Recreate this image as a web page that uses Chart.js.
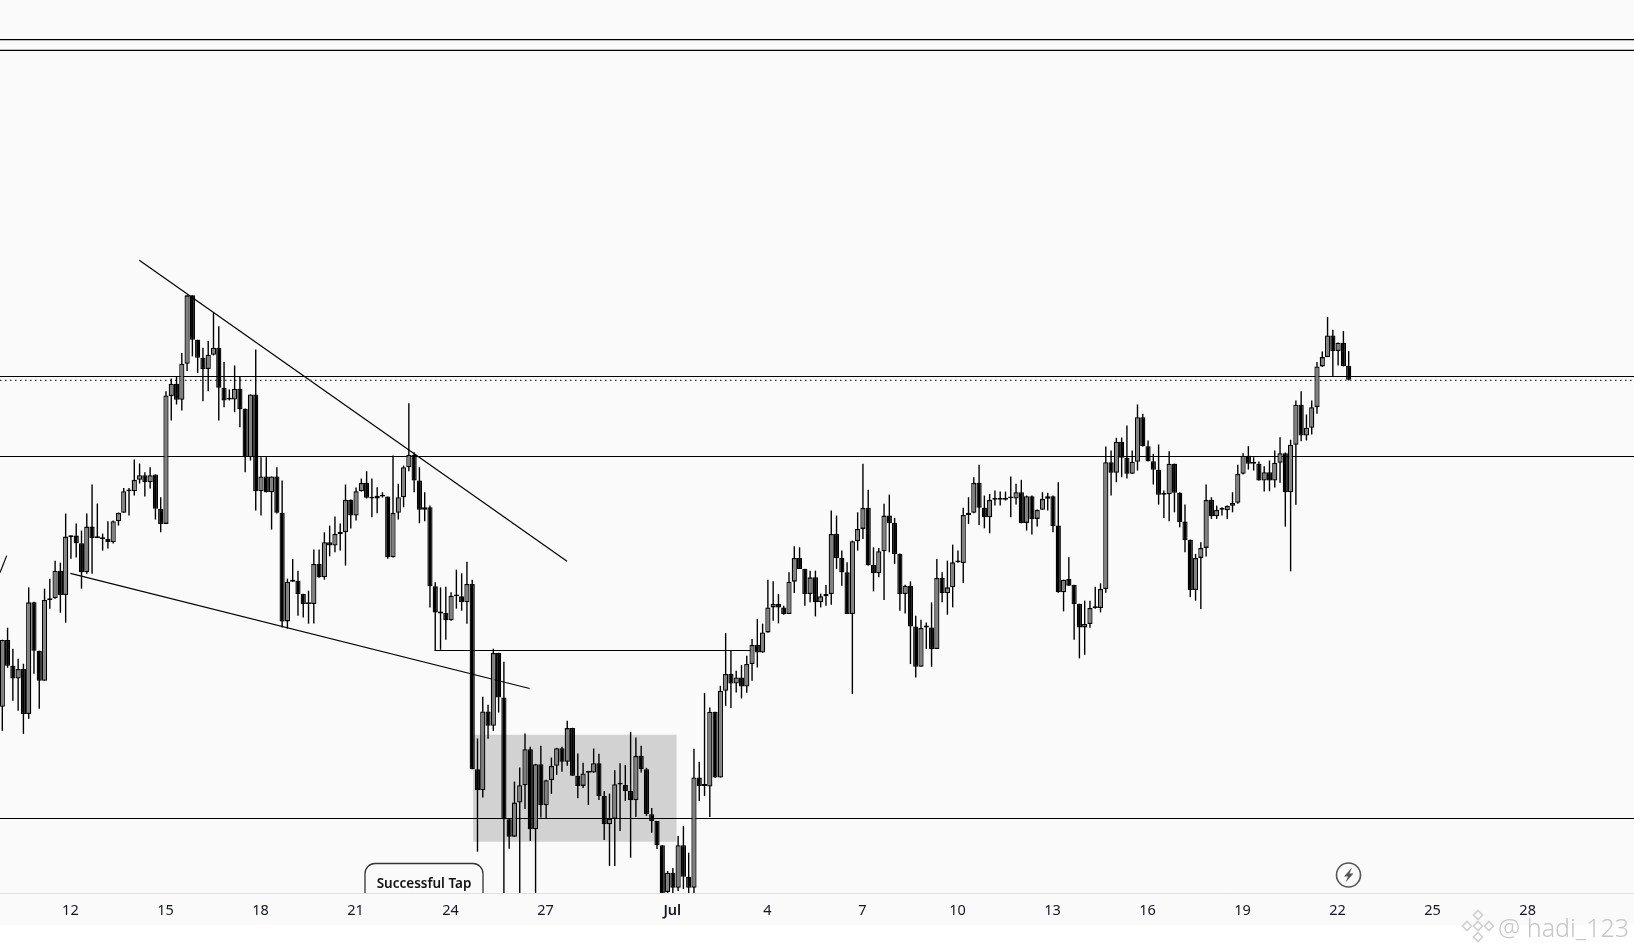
<!DOCTYPE html>
<html>
<head>
<meta charset="utf-8">
<style>html,body{margin:0;padding:0;background:#fff}canvas{display:block}</style>
<script src="https://cdn.jsdelivr.net/npm/chart.js@4/dist/chart.umd.min.js"></script>
</head>
<body>
<canvas id="c" width="1634" height="952" style="width:1634px;height:952px"></canvas>
<script>
// Four-hour candles (six per day); day numbers count from 1 June, prices in chart units
const firstCandleDay = 9.8506;
const candlesPerDay = 6;
const opens = [
294,360.7,335,322.3,331.7,286.7,398.3,350,320,400.7,
402.3,430,405.7,464.5,465,457.3,428.3,474,463,462,
461.5,458.3,479.3,487.7,509.3,509.3,520.7,525.3,518.3,526,
491.7,476.7,604.3,616.7,600.7,636.7,705,660.7,642.7,631.3,
645.7,652.7,612.7,601,601,611.7,591.7,543.3,606,509.3,
524,508.3,524,487.7,379.3,419,420,406.7,396.7,396.7,
436.7,423.3,458.3,455,466.7,468.3,500.7,485,509.3,517.7,
502,502,504.7,504,443.3,487.7,503.3,533.3,545.7,520,
490.7,493.3,414.3,388.3,387.7,380.5,404.3,404.3,398.3,416.7,
231.7,210.7,289.3,275,347.7,303.3,181.7,164.3,198.3,215.7,
251.7,171.7,236.7,195.7,220.7,235,252.7,239,272.7,225,
215,228,228.3,237.7,205,176.7,182,216.7,216,210,
200.7,245,231.7,186.7,180,155.7,109,128.3,113.3,155.7,
124.3,113.3,223.3,215,214.3,289,223.3,310,326.7,317.3,
323.3,314.3,336.7,355.7,348.3,368.3,393.3,396.7,393.3,386.7,
419,442.7,431.7,406.7,423.3,398.3,404.3,406.7,466.7,442.7,
428.3,386.7,459.3,471.7,492.7,435.7,427.3,449.3,485,477.7,
446.7,406.7,415,374.3,334,373.3,373.3,351.7,422.7,407.3,
413.3,438.3,437.7,485.7,487.7,517.7,492.7,483.3,500.7,500.7,
500.7,502.3,502,508.3,477.7,504.3,481.7,490.7,501.7,504.3,
475,408.3,421.7,415.7,396.7,373.3,376.7,392.7,392.7,411.7,
538.3,527.7,558.7,542.7,526.7,538.7,583.3,554.3,539.3,530.7,
505.7,506.3,536.7,507.7,479,460.7,410.7,442.7,452.7,500.7,
484.3,490.7,490.3,494.7,497.7,526.7,544.7,536.7,536.7,520,
528.3,520,537.7,547.3,508.3,555.7,595.7,565,572.7,593.3,
634,643.3,665,649.3,657.7,634.3];
const closes = [
360.7,335,322.3,331.7,286.7,398.3,350,320,400.7,402.3,
430,405.7,464,463.5,457.3,428.3,474,462.7,462.5,461.5,
458.5,479.3,487.7,509.3,510,520.7,525.3,518.3,525.3,491.7,
476.7,605,616.7,600.7,636.7,705,660.7,642.7,631.3,645.7,
652.7,612.7,600,601,611.7,591.3,543.3,606,509.3,524,
508.3,524,487.7,379.3,419,419.5,406.7,396.7,396.7,436.7,
423.3,458.3,455,466.7,468.3,500.7,485,509.3,517.7,502.7,
503,504.7,504,443.3,487.7,503.3,533.3,545.7,520,490.7,
493.3,414.3,388.3,387.3,380.5,405,405,398.3,416.7,231.7,
210.7,289.3,275,347.7,303.3,181.7,164.3,198.3,215.7,251.7,
171.7,236.7,195.7,220.7,235,252.7,239,272.7,225,215,
227.3,228.3,237.7,205,176.7,182.3,216.7,216.3,210,200.7,
245,231.7,186.7,180,155.7,107,128.3,113.3,155.7,124.3,
113.3,223.3,215,215.5,289,223.3,310,326.7,317.3,323.3,
314.3,336.7,355.7,348.3,368.3,393.3,396.7,393.3,386.7,419,
442.7,431.7,406.7,423.3,398.3,404.3,406.7,466.7,442.7,428.3,
386.7,459.3,471.7,492.7,435.7,427.3,449.3,485,477.7,446.7,
406.7,415,374.3,334,372.7,373.3,351.7,422.7,407.3,413.3,
438.3,438.3,485.7,487.7,517.7,492.7,483.3,500.7,500.7,500.7,
502.3,502.3,508.3,477.7,504.3,481.7,490.7,501.7,504.3,474.3,
408.3,421,415,396.7,373.3,376.7,392.7,392.7,411.7,538.3,
527.7,558.7,542.7,526.7,538.7,583.3,554.3,539.3,530.7,505.7,
506.3,536.7,507.7,478.3,460.7,410.7,442.7,452.7,500.7,484.3,
490.7,490.7,494.7,497.7,526.7,544.7,536.7,536.7,520,528.3,
520,537.7,547.3,508.3,555.7,595.7,565,572.7,593.3,634,
643.3,665,649.3,657.7,634.3,620.7];
const highs = [
361,373,352,342,337,413.3,399,350,412,422,
440,438,487,465,477,470,487,516,497,467,
479.3,480,488,512.5,512.5,541,537,528.3,533.3,526,
503.3,609.3,622,624,647.3,705,705,660.7,652.7,659.3,
687.7,674,638.3,611,635,624,592,606,651,543.3,
543.3,524,533.3,520,422,441.7,430,407,410,451,
451,468.3,475,484,477,516,501,513,522,529.3,
522,513.3,508.3,504,545,516.7,535,597.3,548.3,533.3,
508.3,495,418.3,413.3,414,408.3,431,427.3,439,421,
262.3,304,296,352,348,339,182,219.3,233.3,267.3,
254,237,255,221,243.3,253,254,280,273,247.3,
238,230,252.3,247,210,207.3,230.7,237.7,236,269,
263.3,255,233,193,180,156,130,133,165,175,
148.3,252,239,307.7,293.3,289,315,367.7,350.7,330,
335.7,345,361.7,381.7,377,421,419.3,406.7,395,428.3,
454.3,453.3,432,430,430,407,415.7,490,485,450,
438.3,460,488.3,536.7,510.7,453.3,452.7,496.7,506,482.7,
447,416,419.3,385,381,378.3,398.3,441.7,428.3,440,
456,450,492.7,503.3,523.3,535.7,505,506.7,510,509,
509,524,516.7,520.7,505,505,491,508.3,507.7,505,
518.3,421,443.3,416,397,400,400,414,417.3,554,
550,562.7,563,575,550,596,586.7,560,546.7,556,
510,549.3,537,508.3,496,461,446.7,458.3,516,503.3,
495,493.3,495,508.3,535.7,547.3,554.3,543.3,539,534.3,
540,550,563.3,548,560.7,600,609.3,586,600,638.3,
649,683.3,670.7,658,669.3,649.3];
const lows = [
270,333,300,290,267,282,327,292,320,392,
402,388,378,442,443,412,427,427,462.5,450,
452,457,475,487.7,485,505,517,504,512,481,
468.3,476.7,580,596,590,629.3,644,627.3,599.3,609.3,
645,580,593.3,600,588.3,573.3,528.3,540,490,485,
508,471,487,373.3,372,419,385,383.3,377,377.3,
423,421,444.3,448.3,450,435,472,480,509,502,
483.3,487.3,503,442,443,481,493.3,529.3,508.3,477.3,
479.3,393.3,350,351,361,380,392,390,377,231.7,
149.3,203.3,262,270,288.3,100,152.3,164,100,192,
160,100,183.3,183,207,226,229,235,225,202.7,
213,196,228,201,161,135,135,170,200,143.3,
184,228.3,185,168.3,152,105,105,108,110,112,
108,108,200,205,184,223,223.3,295,292.7,308.3,
302.3,308,320,333.3,348,368,380,377.3,386,386.7,
407.7,431.7,395,398.3,384.3,393.3,395,396,431.7,415,
386.7,306.7,450,461.7,435,409.3,423.3,400.7,448.3,436.7,
390,387.3,336.7,323.3,334,351.7,334,351.7,398.3,386,
393.3,438,417.7,476.7,487.3,475.7,472.3,467.3,495,495,
500,483.3,496,477.3,470,466,474,490.5,490,468.3,
408,389.3,415,361,342.3,346,373,392,388.3,408,
505,518.3,523.3,522,526.5,530,554,539,516,496,
482.7,479.3,488.3,473.3,448.3,403.3,400,391.7,444,481.7,
481.7,485,481.7,488.3,496.7,526,531,530,520,509,
509.3,513,517.7,474,429.3,495.7,559.3,560,566,586.7,
633.3,643.3,624,635,634,620];
// Axis
const tickDays = [12,15,18,21,24,27,31,34,37,40,43,46,49,52,55,58];
const tickLabels = ['12','15','18','21','24','27','Jul','4','7','10','13','16','19','22','25','28'];
// Drawn levels and trend lines
const solidLevels = [960.5,949.6,623.9,544,182.4];
const dottedLevels = [620];
const xStart = 9.778, xEnd = 61.357;
const priceMin = 108, priceMax = 1000;
const shortLevel = {from:23.496,to:33.516,price:350.2};
const trendA = [[14.175,740],[27.676,439.4]];
const trendB = [[12.0,427.3],[26.495,312.3]];
const trendStub = [[9.778,428],[9.99,445]];
const zone = {from:24.709,to:31.139,top:266,bottom:159.3};

const candleDay = i => firstCandleDay + i / candlesPerDay;
const lineSet = (pts, extra) => Object.assign({
  type:'line', data:pts.map(p=>({x:p[0],y:p[1]})), borderColor:'#000', borderWidth:1.2,
  pointRadius:0, tension:0, fill:false, order:4
}, extra||{});

const decor = {
  id:'decor',
  beforeDraw(ch){
    const g = ch.ctx;
    g.save();
    g.fillStyle='#ffffff'; g.fillRect(0,0,1634,952);
    g.fillStyle='#fafafa'; g.fillRect(0,0,1634,925);
    g.restore();
  },
  afterDatasetsDraw(ch){
    const g = ch.ctx;
    // note label, cut off by the axis
    g.save();
    g.beginPath(); g.rect(0,0,1634,893); g.clip();
    g.strokeStyle='#333'; g.lineWidth=1.3;
    g.beginPath(); g.roundRect(365,863.5,118,50,10); g.stroke();
    g.fillStyle='#111'; g.font='600 13.5px "Noto Sans"'; g.textAlign='center'; g.textBaseline='middle';
    g.fillText('Successful Tap',424,884);
    g.restore();
    // flash icon
    g.save();
    g.strokeStyle='#555'; g.lineWidth=1.6;
    g.beginPath(); g.arc(1348.5,875,12,0,Math.PI*2); g.stroke();
    g.fillStyle='#555';
    g.beginPath(); g.moveTo(1352,867.5); g.lineTo(1344,876.5); g.lineTo(1348,876.5); g.lineTo(1345.5,882.5);
    g.lineTo(1353.5,873.5); g.lineTo(1349.5,873.5); g.closePath(); g.fill();
    g.restore();
    // watermark
    g.save();
    g.strokeStyle='#cfcfcf'; g.lineWidth=1.6;
    const dia=(x,y,r)=>{g.beginPath();g.moveTo(x,y-r);g.lineTo(x+r,y);g.lineTo(x,y+r);g.lineTo(x-r,y);g.closePath();g.stroke();};
    dia(1478,926,4.5); dia(1478,915,4.5); dia(1478,937,4.5); dia(1467,926,4.5); dia(1489,926,4.5);
    g.fillStyle='#c6c6c6'; g.font='300 25px "Noto Sans"'; g.textAlign='left'; g.textBaseline='alphabetic';
    g.fillText('@ hadi_123',1498,937);
    g.restore();
  }
};

const idx = opens.map((_,i)=>i);
new Chart(document.getElementById('c'), {
  type:'bar',
  data:{datasets:[
    {data:idx.map(i=>({x:candleDay(i),y:[opens[i],closes[i]]})), barThickness:5.2, grouped:false, order:1,
     backgroundColor:idx.map(i=>closes[i]>=opens[i]?'#808080':'#000000'), borderColor:'#000', borderWidth:1.3,
     borderSkipped:false, minBarLength:1.8, inflateAmount:0},
    {data:idx.map(i=>({x:candleDay(i),y:[lows[i],highs[i]]})), barThickness:1.4, grouped:false, order:2,
     backgroundColor:'#000', borderWidth:0, inflateAmount:0},
    ...solidLevels.map(v=>lineSet([[xStart,v],[xEnd,v]])),
    ...dottedLevels.map(v=>lineSet([[xStart,v],[xEnd,v]],{borderDash:[1.5,3.5],borderColor:'#333'})),
    lineSet([[shortLevel.from,shortLevel.price],[shortLevel.to,shortLevel.price]],{borderWidth:1.1}),
    lineSet(trendA), lineSet(trendB), lineSet(trendStub),
    lineSet([[zone.from,zone.top],[zone.to,zone.top]],{borderWidth:0,backgroundColor:'#d2d2d2',fill:{value:zone.bottom},order:6})
  ]},
  options:{
    responsive:false, animation:false, devicePixelRatio:1,
    layout:{padding:0},
    plugins:{legend:{display:false},tooltip:{enabled:false}},
    scales:{
      x:{type:'linear',min:xStart,max:xEnd,offset:false,
        afterBuildTicks(s){s.ticks=tickDays.map(v=>({value:v}));},
        afterFit(s){s.height=59;},
        grid:{display:false,drawTicks:false},
        border:{display:true,color:'#e0e0e0',width:1},
        ticks:{autoSkip:false,maxRotation:0,padding:9,color:'#131722',
          font:c=>({family:'"Noto Sans"',size:14.5,weight:(c.tick&&c.tick.value===31)?'600':'400'}),
          callback:v=>{const k=tickDays.indexOf(v);return k<0?'':tickLabels[k];}}
      },
      y:{type:'linear',display:false,min:priceMin,max:priceMax}
    }
  },
  plugins:[decor]
});
</script>
</body>
</html>
